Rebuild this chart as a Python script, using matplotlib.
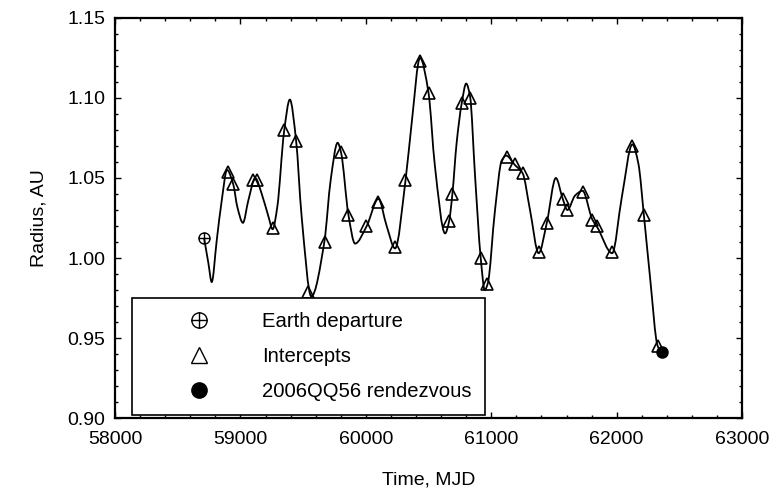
import matplotlib
matplotlib.use('Agg')
import matplotlib.pyplot as plt
from matplotlib.path import Path
from matplotlib.patches import PathPatch
from matplotlib.lines import Line2D
from matplotlib.ticker import MultipleLocator, FormatStrFormatter

plt.rcParams['font.family'] = ['Liberation Sans', 'DejaVu Sans']

# ---- data ----
curve_mjd = [58710, 58744, 58771, 58811, 58851, 58893, 58943, 58975, 59020, 59063,
             59118, 59170, 59223, 59257, 59294, 59348, 59394, 59443, 59488, 59565,
             59669, 59720, 59775, 59802, 59861, 59914, 60007, 60100, 60166, 60233,
             60317, 60365, 60432, 60500, 60550, 60632, 60664, 60690, 60724, 60765,
             60800, 60831, 60871, 60916, 60948, 60972, 61030, 61084, 61118, 61190,
             61250, 61309, 61378, 61443, 61515, 61570, 61607, 61668, 61728, 61806,
             61847, 61964, 62041, 62125, 62173, 62218, 62266, 62327, 62362]
curve_radius = [1.0125, 0.997, 0.985, 1.011, 1.036, 1.055, 1.046, 1.032, 1.022, 1.036,
                1.050, 1.040, 1.026, 1.018, 1.032, 1.079, 1.099, 1.074, 1.026, 0.976,
                1.010, 1.049, 1.072, 1.066, 1.027, 1.009, 1.020, 1.037, 1.020, 1.006,
                1.049, 1.084, 1.125, 1.103, 1.058, 1.0154, 1.023, 1.040, 1.072, 1.097,
                1.109, 1.101, 1.051, 1.000, 0.980, 0.984, 1.030, 1.061, 1.064, 1.058,
                1.053, 1.030, 1.003, 1.022, 1.050, 1.037, 1.030, 1.039, 1.042, 1.024,
                1.019, 1.003, 1.038, 1.071, 1.059, 1.026, 0.988, 0.945, 0.941]

departure_mjd = [58710]
departure_radius = [1.0125]

intercept_mjd = [58901, 58943, 59100, 59135, 59262, 59348, 59443, 59541, 59672, 59800,
                 59861, 60003, 60100, 60229, 60315, 60432, 60501, 60660, 60690, 60765,
                 60831, 60916, 60970, 61122, 61190, 61250, 61381, 61443, 61570, 61607,
                 61728, 61806, 61847, 61966, 62125, 62218, 62326]
intercept_radius = [1.054, 1.046, 1.049, 1.049, 1.019, 1.080, 1.073, 0.979, 1.010, 1.066,
                    1.027, 1.020, 1.035, 1.007, 1.049, 1.123, 1.103, 1.023, 1.040, 1.097,
                    1.100, 1.000, 0.984, 1.063, 1.059, 1.053, 1.004, 1.022, 1.037, 1.030,
                    1.041, 1.024, 1.020, 1.004, 1.070, 1.027, 0.945]

rendezvous_mjd = [62360]
rendezvous_radius = [0.941]

legend_labels = ["Earth departure", "Intercepts", "2006QQ56 rendezvous"]
x_ticks = [58000, 59000, 60000, 61000, 62000, 63000]
y_ticks = [0.90, 0.95, 1.00, 1.05, 1.10, 1.15]


def smooth_path(x, y):
    """Monotone cubic Bezier path through the read points (rendered by matplotlib)."""
    n = len(x)
    h = [x[i + 1] - x[i] for i in range(n - 1)]
    d = [(y[i + 1] - y[i]) / h[i] for i in range(n - 1)]
    m = [0.0] * n
    m[0], m[-1] = d[0], d[-1]
    for i in range(1, n - 1):
        if d[i - 1] * d[i] <= 0:
            m[i] = 0.0
        else:
            w1 = 2 * h[i] + h[i - 1]
            w2 = h[i] + 2 * h[i - 1]
            m[i] = (w1 + w2) / (w1 / d[i - 1] + w2 / d[i])
    verts = [(x[0], y[0])]
    codes = [Path.MOVETO]
    for i in range(n - 1):
        verts += [(x[i] + h[i] / 3, y[i] + m[i] * h[i] / 3),
                  (x[i + 1] - h[i] / 3, y[i + 1] - m[i + 1] * h[i] / 3),
                  (x[i + 1], y[i + 1])]
        codes += [Path.CURVE4] * 3
    return Path(verts, codes)


oplus = Path.make_compound_path(
    Path.unit_circle(),
    Path([[-1, 0], [1, 0]], [Path.MOVETO, Path.LINETO]),
    Path([[0, -1], [0, 1]], [Path.MOVETO, Path.LINETO]),
)

fig = plt.figure(figsize=(7.73, 4.90), dpi=100)
ax = fig.add_axes([0.1488, 0.1469, 0.8112, 0.8164])

ax.add_patch(PathPatch(smooth_path(curve_mjd, curve_radius), facecolor='none',
                       edgecolor='black', lw=1.3, zorder=2))

ax.plot(departure_mjd, departure_radius, linestyle='none', marker=oplus,
        ms=8, mfc='none', mec='black', mew=1.0, zorder=3)
ax.plot(intercept_mjd, intercept_radius, linestyle='none', marker='^',
        ms=8, mfc='none', mec='black', mew=1.2, zorder=3)
ax.plot(rendezvous_mjd, rendezvous_radius, linestyle='none', marker='o',
        ms=8, mfc='black', mec='black', zorder=3)

ax.set_xlim(58000, 63000)
ax.set_ylim(0.90, 1.15)
ax.set_xticks(x_ticks)
ax.set_yticks(y_ticks)
ax.yaxis.set_major_formatter(FormatStrFormatter('%.2f'))
ax.xaxis.set_major_formatter(FormatStrFormatter('%d'))
ax.xaxis.set_minor_locator(MultipleLocator(200))
ax.yaxis.set_minor_locator(MultipleLocator(0.01))
ax.tick_params(which='both', direction='in', top=True, right=True, width=1.0,
               labelsize=14, colors='black')
ax.tick_params(axis='x', which='major', length=4, pad=9)
ax.tick_params(axis='y', which='major', length=4, pad=7)
ax.tick_params(which='minor', length=2)
for s in ax.spines.values():
    s.set_linewidth(1.6)

ax.set_xlabel('Time, MJD', fontsize=14, labelpad=17)
ax.set_ylabel('Radius, AU', fontsize=14, labelpad=14)

handles = [
    Line2D([], [], linestyle='none', marker=oplus, ms=11, mfc='none', mec='black', mew=1.0),
    Line2D([], [], linestyle='none', marker='^', ms=11, mfc='none', mec='black', mew=1.0),
    Line2D([], [], linestyle='none', marker='o', ms=11, mfc='black', mec='black'),
]
leg = ax.legend(handles, legend_labels, loc='lower left',
                bbox_to_anchor=(0.027, 0.0075), fontsize=14.6, frameon=True,
                fancybox=False, framealpha=1, edgecolor='black',
                borderpad=0.68, handlelength=5.3, handletextpad=0.43,
                labelspacing=0.79, borderaxespad=0, numpoints=1)
leg.get_frame().set_linewidth(1.2)

fig.savefig('out.png', dpi=100, facecolor='white')
